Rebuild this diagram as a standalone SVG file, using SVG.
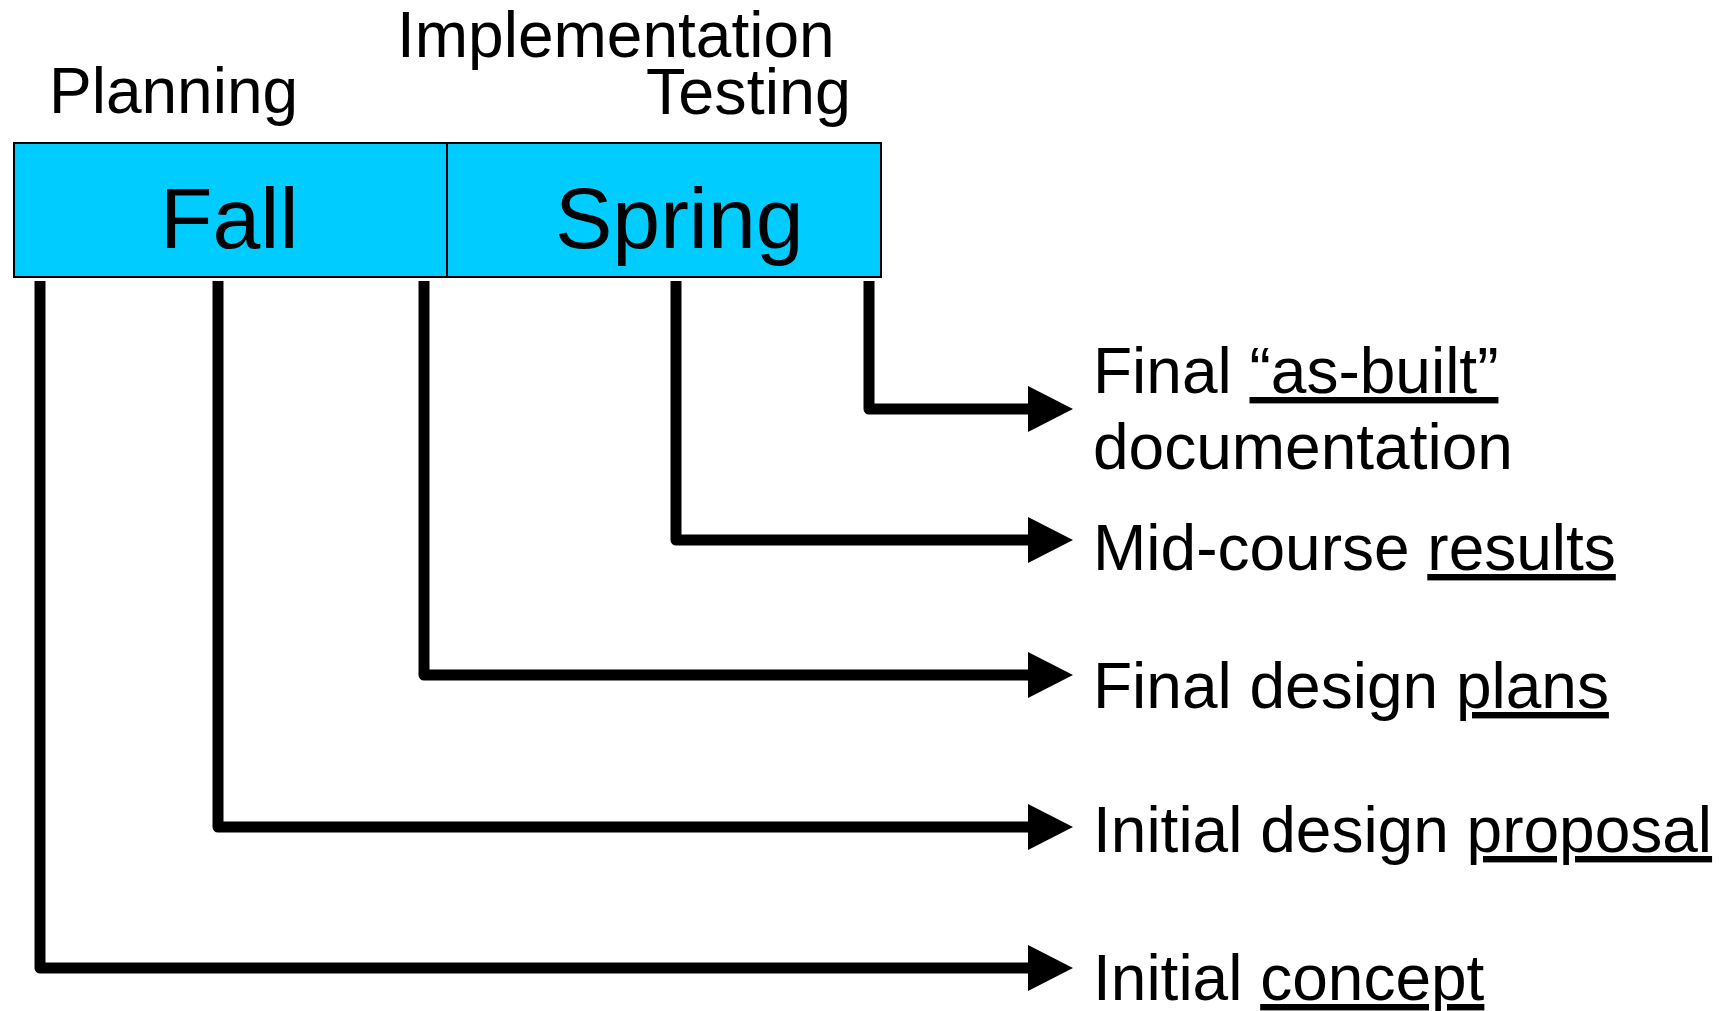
<svg xmlns="http://www.w3.org/2000/svg" width="1733" height="1011" viewBox="0 0 1733 1011">
<defs>
<style>
text{font-family:"Liberation Sans",Arial,sans-serif;fill:#000}
.lbl{font-size:64px}
.big{font-size:86px}
.conn{fill:none;stroke:#000;stroke-width:11;stroke-linejoin:round;stroke-linecap:butt}
.u{text-decoration:underline}
</style>
<marker id="ah" markerUnits="userSpaceOnUse" markerWidth="46" markerHeight="46" refX="2" refY="23" orient="auto" viewBox="0 0 46 46">
<path d="M0,0 L45,23 L0,46 Z" fill="#000"/>
</marker>
</defs>
<rect width="1733" height="1011" fill="#fff"/>
<g id="phases">
<text class="lbl" x="49" y="113">Planning</text>
<text class="lbl" x="397" y="57">Implementation</text>
<text class="lbl" x="646" y="114" textLength="205" lengthAdjust="spacingAndGlyphs">Testing</text>
</g>
<g id="fall">
<rect x="14" y="143" width="433" height="134" fill="#00CCFF" stroke="#000" stroke-width="2"/>
<text class="big" x="160" y="248">Fall</text>
</g>
<g id="spring">
<rect x="447" y="143" width="434" height="134" fill="#00CCFF" stroke="#000" stroke-width="2"/>
<text class="big" x="555" y="248">Spring</text>
</g>
<g id="connectors">
<path class="conn" d="M869,281 V409 H1030" marker-end="url(#ah)"/>
<path class="conn" d="M676,281 V540 H1030" marker-end="url(#ah)"/>
<path class="conn" d="M424,281 V675 H1030" marker-end="url(#ah)"/>
<path class="conn" d="M218,281 V827 H1030" marker-end="url(#ah)"/>
<path class="conn" d="M40,281 V968 H1030" marker-end="url(#ah)"/>
</g>
<g id="asbuilt">
<text class="lbl" x="1093" y="393">Final <tspan class="u">“as-built”</tspan></text>
<text class="lbl" x="1093" y="469">documentation</text>
</g>
<g id="midcourse">
<text class="lbl" x="1093" y="570">Mid-course <tspan class="u">results</tspan></text>
</g>
<g id="finaldesign">
<text class="lbl" x="1093" y="708">Final design <tspan class="u">plans</tspan></text>
</g>
<g id="initialdesign">
<text class="lbl" x="1093" y="852">Initial design <tspan class="u">proposal</tspan></text>
</g>
<g id="initialconcept">
<text class="lbl" x="1093" y="1000">Initial <tspan class="u">concept</tspan></text>
</g>
</svg>
